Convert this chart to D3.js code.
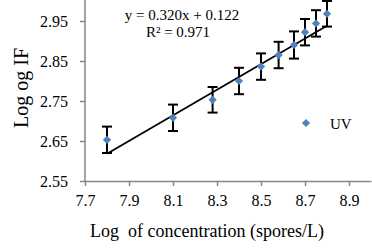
<!DOCTYPE html>
<html>
<head>
<meta charset="utf-8">
<script src="https://cdn.jsdelivr.net/npm/d3@7"></script>
<style>
  body { margin: 0; background: #fff; }
  svg { display: block; }
  text { font-family: "Liberation Serif", "Times New Roman", serif; }
</style>
</head>
<body>
<div id="chart"></div>
<script>
/* Log IF vs log concentration, UV series with linear trendline */

const logConc = [7.8, 8.1, 8.28, 8.4, 8.5, 8.58, 8.65, 8.7, 8.75, 8.8];
const logIF   = [2.653, 2.708, 2.753, 2.8, 2.836, 2.865, 2.89, 2.922, 2.944, 2.968];
const errIF   = [0.033, 0.033, 0.032, 0.033, 0.033, 0.033, 0.034, 0.033, 0.033, 0.032];
const xTicks  = [7.7, 7.9, 8.1, 8.3, 8.5, 8.7, 8.9];
const yTicks  = [2.55, 2.65, 2.75, 2.85, 2.95];
const slope = 0.320, intercept = 0.122, r2 = 0.971;
const seriesName = "UV";

const data = logConc.map((x, i) => ({ x: x, y: logIF[i], e: errIF[i] }));

const width = 372,
      height = 252,
      margin = ({ top: 1, right: 1, bottom: 71, left: 85 });

const serif = "Liberation Serif, Times New Roman, serif";

const svg = d3.select("#chart")
    .append("svg")
    .attr("width", width)
    .attr("height", height)
    .attr("viewBox", [0, 0, width, height])
    .attr("font-family", serif);

const x = d3.scaleLinear()
    .domain([7.7, 9.0])
    .range([margin.left, width - margin.right]);

const y = d3.scaleLinear()
    .domain([2.55, 3.0])
    .range([height - margin.bottom, margin.top]);

const axisColor = "#868686";

const xAxis = g => g
    .attr("transform", `translate(0, ${height - margin.bottom})`)
    .call(d3.axisBottom(x).tickValues(xTicks).tickFormat(d3.format(".1f"))
        .tickSizeInner(5).tickSizeOuter(0).tickPadding(9))
    .attr("font-family", serif)
    .attr("font-size", 16)
    .call(g => g.select(".domain").attr("stroke", axisColor).attr("stroke-width", 1.5))
    .call(g => g.selectAll(".tick line").attr("stroke", axisColor).attr("stroke-width", 1.5))
    .call(g => g.selectAll("text").attr("fill", "#000"));

const yAxis = g => g
    .attr("transform", `translate(${margin.left}, 0)`)
    .call(d3.axisLeft(y).tickValues(yTicks).tickFormat(d3.format(".2f"))
        .tickSizeInner(5).tickSizeOuter(0).tickPadding(12))
    .attr("font-family", serif)
    .attr("font-size", 16)
    .call(g => g.select(".domain").attr("stroke", axisColor).attr("stroke-width", 1.5)
        .attr("d", `M0,${height - margin.bottom}V0`))
    .call(g => g.selectAll(".tick line").attr("stroke", axisColor).attr("stroke-width", 1.5))
    .call(g => g.selectAll("text").attr("fill", "#000"));

svg.append("g").call(xAxis);
svg.append("g").call(yAxis);

// trendline over the data range
const xExt = d3.extent(logConc);
svg.append("line")
    .attr("x1", x(xExt[0]))
    .attr("y1", y(slope * xExt[0] + intercept))
    .attr("x2", x(xExt[1]))
    .attr("y2", y(slope * xExt[1] + intercept))
    .attr("stroke", "#000")
    .attr("stroke-width", 1.8);

// error bars
const capW = 5;
const err = svg.selectAll(".err")
    .data(data)
    .join("g")
    .attr("class", "err")
    .attr("stroke", "#000")
    .attr("stroke-width", 2);

err.append("line")
    .attr("x1", d => x(d.x)).attr("x2", d => x(d.x))
    .attr("y1", d => y(d.y + d.e)).attr("y2", d => y(d.y - d.e));
err.append("line")
    .attr("x1", d => x(d.x) - capW).attr("x2", d => x(d.x) + capW)
    .attr("y1", d => y(d.y + d.e)).attr("y2", d => y(d.y + d.e));
err.append("line")
    .attr("x1", d => x(d.x) - capW).attr("x2", d => x(d.x) + capW)
    .attr("y1", d => y(d.y - d.e)).attr("y2", d => y(d.y - d.e));

// diamond markers
const diamond = d3.symbol().type(d3.symbolSquare).size(34);
svg.selectAll(".pt")
    .data(data)
    .join("path")
    .attr("class", "pt")
    .attr("d", diamond)
    .attr("transform", d => `translate(${x(d.x)},${y(d.y)}) rotate(45)`)
    .attr("fill", "#4F81BD");

// equation
svg.append("text")
    .attr("x", 182).attr("y", 20)
    .attr("text-anchor", "middle")
    .attr("font-size", 15)
    .text(`y = ${slope.toFixed(3)}x + ${intercept.toFixed(3)}`);
svg.append("text")
    .attr("x", 178).attr("y", 37)
    .attr("text-anchor", "middle")
    .attr("font-size", 15)
    .text(`R² = ${r2.toFixed(3)}`);

// legend
svg.append("path")
    .attr("d", diamond)
    .attr("transform", "translate(306,123) rotate(45)")
    .attr("fill", "#4F81BD");
svg.append("text")
    .attr("x", 330).attr("y", 129)
    .attr("font-size", 15)
    .text(seriesName);

// axis titles
svg.append("text")
    .attr("x", 207).attr("y", 237)
    .attr("text-anchor", "middle")
    .attr("font-size", 18)
    .attr("xml:space", "preserve")
    .style("white-space", "pre")
    .text("Log  of concentration (spores/L)");

svg.append("text")
    .attr("transform", "translate(28, 88) rotate(-90)")
    .attr("text-anchor", "middle")
    .attr("font-size", 20)
    .text("Log og IF");
</script>
</body>
</html>
